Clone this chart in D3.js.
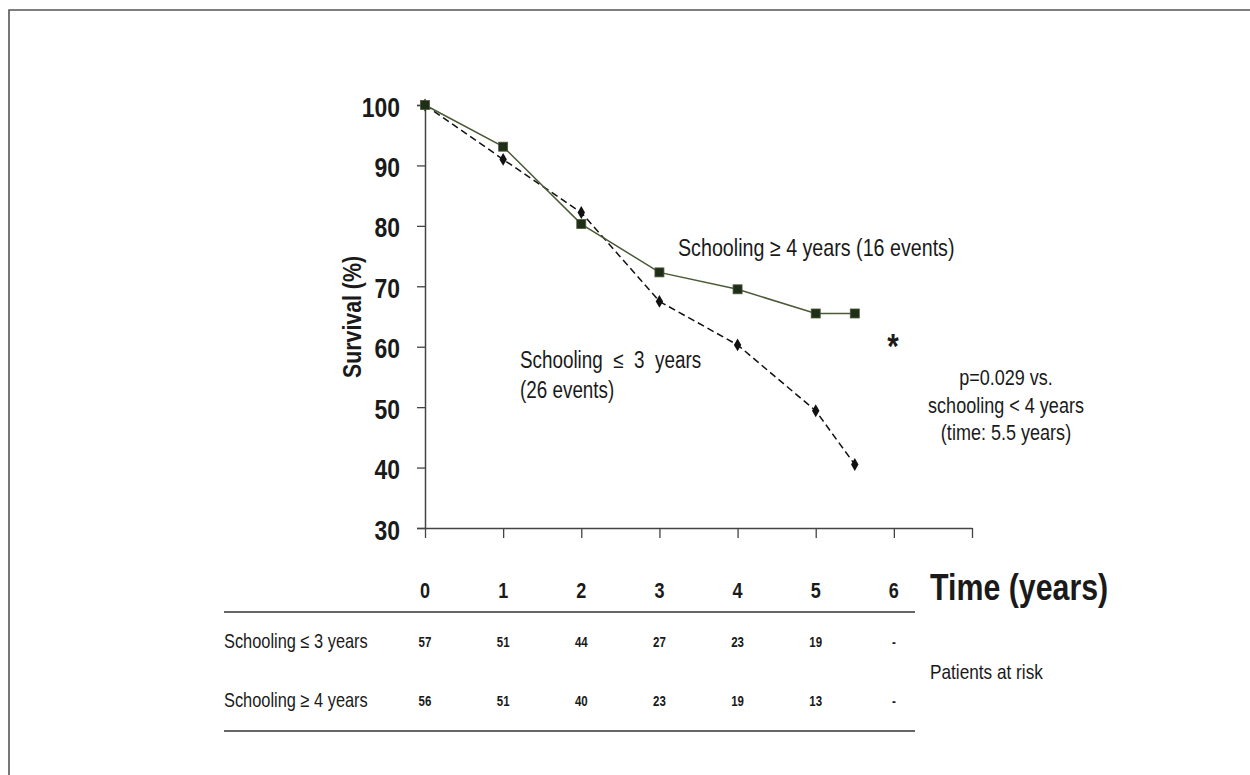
<!DOCTYPE html>
<html>
<head>
<meta charset="utf-8">
<script src="https://cdn.jsdelivr.net/npm/d3@7"></script>
<style>
  body { margin: 0; background: #fff; }
  svg text { font-family: "Liberation Sans", Arial, sans-serif; fill: #1a1a1a; }
</style>
</head>
<body>
<div id="chart"></div>
<script>
// survival curves (time in years, survival %)
var times = [0, 1, 2, 3, 4, 5, 5.5];
var survivalHigh = [100, 93.1, 80.3, 72.3, 69.5, 65.5, 65.5]; // schooling >= 4 years
var survivalLow = [100, 91.0, 82.2, 67.5, 60.3, 49.4, 40.5];  // schooling <= 3 years

var yTicks = [30, 40, 50, 60, 70, 80, 90, 100];
var xTicks = [0, 1, 2, 3, 4, 5, 6, 7];
var xLabels = ["0", "1", "2", "3", "4", "5", "6"];

// patients at risk table
var riskRows = ["Schooling \u2264 3 years", "Schooling \u2265 4 years"];
var riskLow = ["57", "51", "44", "27", "23", "19", "-"];
var riskHigh = ["56", "51", "40", "23", "19", "13", "-"];

var W = 1250, H = 775;
var narrow = 0.82; // no Arial Narrow here, so squeeze Liberation Sans

var svg = d3.select("#chart").append("svg")
    .attr("width", W)
    .attr("height", H);

// place a squeezed text at (x, y)
function nt(px, py) {
    return "translate(" + px + "," + py + ") scale(" + narrow + ",1)";
}

// frame (only top and left edges are inside the picture)
svg.append("path")
    .attr("d", "M9," + H + " L9,10 L" + W + ",10")
    .attr("fill", "none")
    .attr("stroke", "#555")
    .attr("stroke-width", 1.6);

var x = d3.scaleLinear().domain([0, 7]).range([425, 972]);
var y = d3.scaleLinear().domain([30, 100]).range([528, 105]);

// y axis
var gy = svg.append("g")
    .attr("transform", "translate(" + x(0) + ",0)")
    .call(d3.axisLeft(y).tickValues(yTicks).tickSize(8));
gy.select(".domain").attr("stroke", "#444").attr("stroke-width", 1.5);
gy.selectAll(".tick line").attr("stroke", "#444").attr("stroke-width", 1.3);
gy.selectAll(".tick text")
    .attr("x", null)
    .attr("dy", null)
    .attr("transform", nt(-25, 11))
    .attr("font-size", 28)
    .attr("font-weight", "bold")
    .attr("font-family", null);

// x axis (ticks only, labels sit lower)
var gx = svg.append("g")
    .attr("transform", "translate(0," + y(30) + ")")
    .call(d3.axisBottom(x).tickValues(xTicks).tickSize(10).tickSizeOuter(0).tickFormat(""));
gx.select(".domain").attr("stroke", "#444").attr("stroke-width", 1.5);
gx.selectAll(".tick line").attr("stroke", "#444").attr("stroke-width", 1.3);

svg.selectAll("text.xlab")
    .data(xLabels)
    .enter().append("text")
    .attr("class", "xlab")
    .attr("transform", function(d, i) { return nt(x(i), 598); })
    .attr("text-anchor", "middle")
    .attr("font-size", 22)
    .attr("font-weight", "bold")
    .text(function(d) { return d; });

svg.append("text")
    .attr("transform", nt(930, 600))
    .attr("font-size", 37)
    .attr("font-weight", "bold")
    .text("Time (years)");

svg.append("text")
    .attr("transform", "translate(361,317) rotate(-90) scale(" + narrow + ",1)")
    .attr("text-anchor", "middle")
    .attr("font-size", 26)
    .attr("font-weight", "bold")
    .text("Survival (%)");

// curves
var line = d3.line()
    .x(function(d) { return x(d[0]); })
    .y(function(d) { return y(d[1]); });

var highPts = d3.zip(times, survivalHigh);
var lowPts = d3.zip(times, survivalLow);

svg.append("path")
    .datum(lowPts)
    .attr("d", line)
    .attr("fill", "none")
    .attr("stroke", "#111")
    .attr("stroke-width", 1.5)
    .attr("stroke-dasharray", "7,4");

svg.append("path")
    .datum(highPts)
    .attr("d", line)
    .attr("fill", "none")
    .attr("stroke", "#4a5a36")
    .attr("stroke-width", 1.5);

svg.selectAll("path.diamond")
    .data(lowPts)
    .enter().append("path")
    .attr("class", "diamond")
    .attr("d", d3.symbol().type(d3.symbolDiamond).size(48))
    .attr("transform", function(d) { return "translate(" + x(d[0]) + "," + y(d[1]) + ")"; })
    .attr("fill", "#111");

svg.selectAll("rect.square")
    .data(highPts)
    .enter().append("rect")
    .attr("class", "square")
    .attr("x", function(d) { return x(d[0]) - 4.5; })
    .attr("y", function(d) { return y(d[1]) - 4.5; })
    .attr("width", 9)
    .attr("height", 9)
    .attr("fill", "#1f2e18")
    .attr("stroke", "#4a5a36")
    .attr("stroke-width", 0.8);

// annotations
svg.append("text")
    .attr("transform", nt(678, 256))
    .attr("font-size", 24)
    .text("Schooling \u2265 4 years (16 events)");

svg.append("text")
    .attr("transform", nt(520, 368))
    .attr("font-size", 23)
    .attr("xml:space", "preserve")
    .text("Schooling  \u2264  3  years");

svg.append("text")
    .attr("transform", nt(520, 398))
    .attr("font-size", 23)
    .text("(26 events)");

svg.append("text")
    .attr("transform", nt(893, 358))
    .attr("text-anchor", "middle")
    .attr("font-size", 36)
    .attr("font-weight", "bold")
    .text("*");

var pLines = ["p=0.029 vs.", "schooling < 4 years", "(time: 5.5 years)"];
svg.selectAll("text.pnote")
    .data(pLines)
    .enter().append("text")
    .attr("class", "pnote")
    .attr("transform", function(d, i) { return nt(1006, 385 + i * 27.5); })
    .attr("text-anchor", "middle")
    .attr("font-size", 22)
    .text(function(d) { return d; });

// patients at risk table
svg.append("line")
    .attr("x1", 224).attr("x2", 915)
    .attr("y1", 612).attr("y2", 612)
    .attr("stroke", "#333").attr("stroke-width", 1.6);
svg.append("line")
    .attr("x1", 224).attr("x2", 915)
    .attr("y1", 731).attr("y2", 731)
    .attr("stroke", "#333").attr("stroke-width", 1.6);

var rowY = [648, 707];

svg.selectAll("text.rowlab")
    .data(riskRows)
    .enter().append("text")
    .attr("class", "rowlab")
    .attr("transform", function(d, i) { return nt(224, rowY[i]); })
    .attr("font-size", 20)
    .text(function(d) { return d; });

[riskLow, riskHigh].forEach(function(vals, r) {
    svg.selectAll("text.risk" + r)
        .data(vals)
        .enter().append("text")
        .attr("class", "risk" + r)
        .attr("transform", function(d, i) { return nt(x(i), rowY[r] - 1); })
        .attr("text-anchor", "middle")
        .attr("font-size", 14)
        .attr("font-weight", "bold")
        .text(function(d) { return d; });
});

svg.append("text")
    .attr("transform", nt(930, 679))
    .attr("font-size", 21)
    .text("Patients at risk");
</script>
</body>
</html>
